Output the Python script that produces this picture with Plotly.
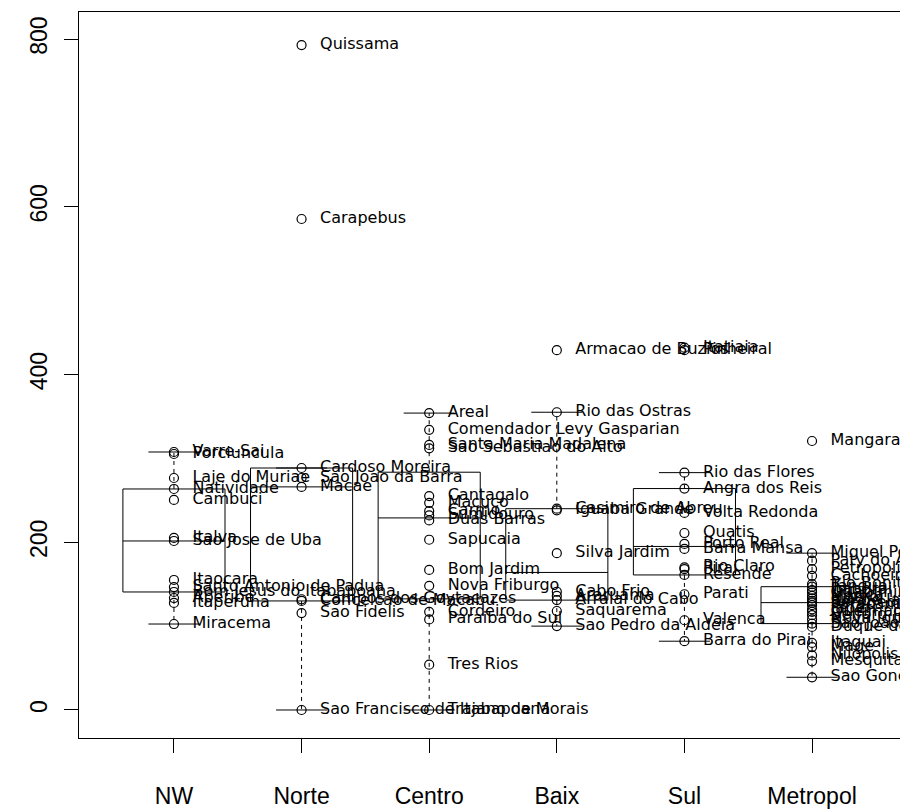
import numpy as np
import plotly.graph_objects as go

groups = ["NW", "Norte", "Centro", "Baix", "Sul", "Metropol"]

nw_names = ["Varre-Sai", "Porciuncula", "Laje do Muriae", "Natividade", "Cambuci",
            "Italva", "Sao Jose de Uba", "Itaocara", "Santo Antonio de Padua",
            "Bom Jesus do Itabapoana", "Aperibe", "Itaperuna", "Miracema"]
nw_values = [307.6, 305.2, 276.6, 263.5, 250.4, 205.1, 201.5, 155.0, 146.6,
             140.7, 133.5, 127.6, 102.5]

norte_names = ["Quissama", "Carapebus", "Cardoso Moreira", "Sao Joao da Barra",
               "Macae", "Campos dos Goytacazes", "Conceicao de Macabu",
               "Sao Fidelis", "Sao Francisco de Itabapoana"]
norte_values = [792.8, 585.4, 288.5, 276.6, 266.0, 132.0, 130.0, 115.6, 0.0]

centro_names = ["Areal", "Comendador Levy Gasparian", "Santa Maria Madalena",
                "Sao Sebastiao do Alto", "Cantagalo", "Macuco", "Carmo",
                "Sumidouro", "Duas Barras", "Sapucaia", "Bom Jardim",
                "Nova Friburgo", "Cordeiro", "Paraiba do Sul", "Tres Rios",
                "Trajano de Morais"]
centro_values = [354.0, 334.0, 316.0, 312.0, 255.0, 247.0, 237.0, 232.0, 226.0,
                 203.0, 167.0, 148.0, 117.0, 108.0, 54.0, 0.0]

baix_names = ["Armacao de Buzios", "Rio das Ostras", "Casimiro de Abreu",
              "Iguaba Grande", "Silva Jardim", "Cabo Frio", "Araruama",
              "Arraial do Cabo", "Saquarema", "Sao Pedro da Aldeia"]
baix_values = [429.0, 355.0, 240.0, 238.0, 187.0, 141.0, 136.0, 131.0, 118.0, 100.0]

sul_names = ["Itatiaia", "Pinheiral", "Rio das Flores", "Angra dos Reis",
             "Volta Redonda", "Quatis", "Porto Real", "Barra Mansa", "Rio Claro",
             "Pirai", "Resende", "Parati", "Valenca", "Barra do Pirai"]
sul_values = [432.0, 429.0, 283.0, 264.0, 235.0, 211.0, 198.0, 192.0, 170.0,
              168.0, 161.0, 138.0, 107.0, 82.0]

metro_names = ["Mangaratiba", "Miguel Pereira", "Paty do Alferes", "Petropolis",
               "Cachoeiras de Macacu", "Rio Bonito", "Tangua", "Itaborai",
               "Guapimirim", "Marica", "Niteroi", "Rio de Janeiro", "Seropedica",
               "Paracambi", "Japeri", "Queimados", "Belford Roxo", "Nova Iguacu",
               "Sao Joao de Meriti", "Duque de Caxias", "Itaguai", "Mage",
               "Nilopolis", "Mesquita", "Sao Goncalo"]
metro_values = [320.7, 187.0, 178.0, 168.0, 160.0, 150.0, 147.0, 143.0, 140.0,
                136.0, 133.0, 130.0, 128.0, 125.0, 120.0, 117.0, 113.0, 108.0,
                103.0, 99.0, 80.0, 75.0, 65.0, 58.0, 39.0]

all_names = [nw_names, norte_names, centro_names, baix_names, sul_names, metro_names]
all_values = [nw_values, norte_values, centro_values, baix_values, sul_values, metro_values]


def fivenum(v):
    x = sorted(v)
    n = len(x)
    n4 = np.floor((n + 3) / 2) / 2
    d = [1, n4, (n + 1) / 2, n + 1 - n4, n]
    return [0.5 * (x[int(np.floor(di)) - 1] + x[int(np.ceil(di)) - 1]) for di in d]


fig = go.Figure()
line_style = dict(color="black", width=1)
half = 0.4       # half box width (boxwex 0.8)
staple = 0.2     # half staple width

for i, vals in enumerate(all_values):
    xc = i + 1
    mn, q1, med, q3, mx = fivenum(vals)
    iqr = q3 - q1
    upper = max(v for v in vals if v <= q3 + 1.5 * iqr)
    lower = min(v for v in vals if v >= q1 - 1.5 * iqr)
    fig.add_trace(go.Scatter(x=[xc - half, xc + half, xc + half, xc - half, xc - half],
                             y=[q1, q1, q3, q3, q1], mode="lines", line=line_style,
                             hoverinfo="skip"))
    fig.add_trace(go.Scatter(x=[xc - half, xc + half], y=[med, med], mode="lines",
                             line=line_style, hoverinfo="skip"))
    for a, b in [(q3, upper), (q1, lower)]:
        fig.add_trace(go.Scatter(x=[xc, xc], y=[a, b], mode="lines",
                                 line=dict(color="black", width=1, dash="4px,4px"),
                                 hoverinfo="skip"))
        fig.add_trace(go.Scatter(x=[xc - staple, xc + staple], y=[b, b], mode="lines",
                                 line=line_style, hoverinfo="skip"))

for i, (names, vals) in enumerate(zip(all_names, all_values)):
    xs = [i + 1] * len(vals)
    fig.add_trace(go.Scatter(x=xs, y=vals, mode="markers",
                             marker=dict(symbol="circle-open", size=9,
                                         color="black", line=dict(width=1.2, color="black")),
                             hoverinfo="skip"))
    fig.add_trace(go.Scatter(x=xs, y=vals, mode="markers+text", text=names,
                             textposition="middle right",
                             textfont=dict(family="DejaVu Sans", size=16, color="black"),
                             marker=dict(size=28, color="rgba(0,0,0,0)"),
                             cliponaxis=True, hoverinfo="skip"))

axis_font = dict(family="Liberation Sans", size=23, color="black")
# page body has an 8px default margin, so the figure is sized to fit the window
fig.update_layout(width=900, height=804, margin=dict(l=71, r=1, t=4, b=74),
                  plot_bgcolor="white", paper_bgcolor="white", showlegend=False)
fig.update_xaxes(range=[0.256, 6.744], tickmode="array", tickvals=[1, 2, 3, 4, 5, 6],
                 ticktext=groups, ticks="outside", ticklen=14, tickcolor="black",
                 showline=True, mirror=True, linecolor="black", linewidth=1,
                 showgrid=False, zeroline=False, tickfont=axis_font,
                 ticklabelstandoff=23, automargin=False)
fig.update_yaxes(range=[-33.4, 832.2], tickmode="array", tickvals=[0, 200, 400, 600, 800],
                 ticks="outside", ticklen=14, tickcolor="black", tickangle=-90,
                 showline=True, mirror=True, linecolor="black", linewidth=1,
                 showgrid=False, zeroline=False, tickfont=axis_font,
                 ticklabelstandoff=8, automargin=False)

fig.write_html("out.html")
